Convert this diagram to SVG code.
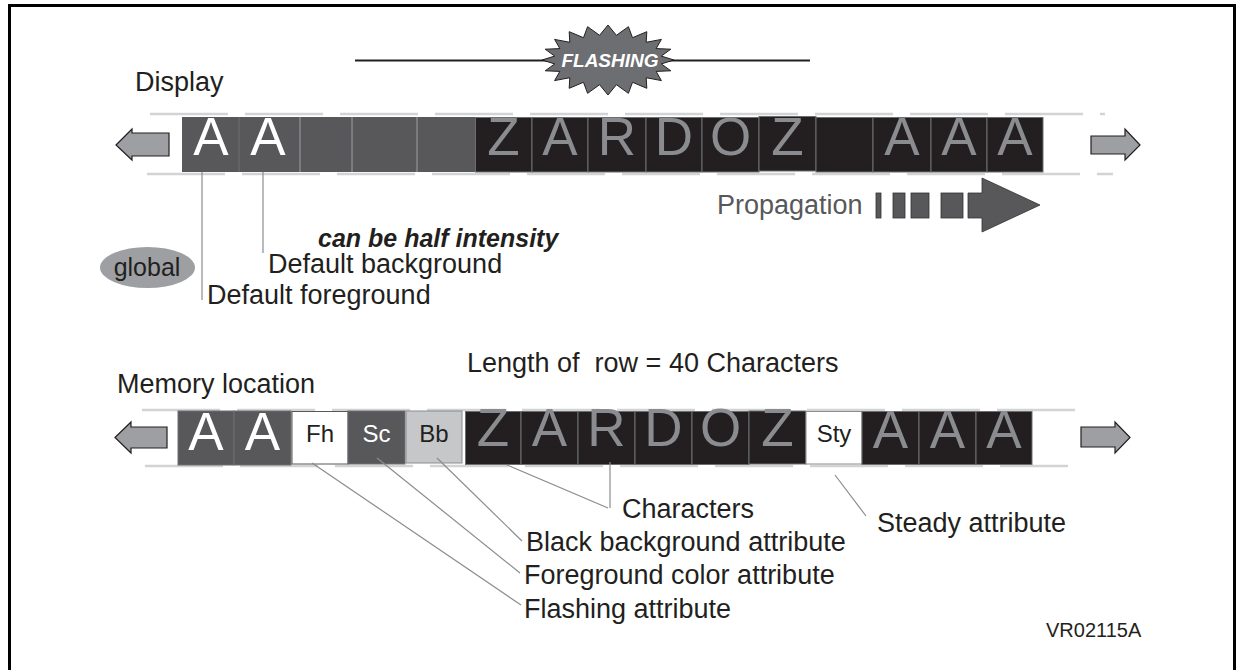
<svg xmlns="http://www.w3.org/2000/svg" width="1239" height="670" viewBox="0 0 1239 670">
<style>
text{font-family:"Liberation Sans",Arial,sans-serif;fill:#231f20}
.lbl{font-size:27px}
.big{font-size:53px;text-anchor:middle}
.w{fill:#ffffff}
.g{fill:#8a8c8f}
.attr{font-size:24px;text-anchor:middle}
.dash{stroke:#d2d3d4;stroke-width:2.5;stroke-dasharray:78 17;fill:none}
.gc{fill:#58585a;stroke:none}
.bc{fill:#231f20;stroke:#6d6e71;stroke-width:1}
.div{stroke:#9d9fa2;stroke-width:1}
.arr{fill:#9d9fa2;stroke:#231f20;stroke-width:1.2}
.con{stroke:#8a8c8f;stroke-width:1.2;fill:none}
</style>
<g id="frame" fill="none" stroke="#000" stroke-width="3">
<path d="M9.5,670 V5.5 H1234.5 V670"/>
</g>
<g id="flashing">
<line x1="355" y1="60.5" x2="810" y2="60.5" stroke="#231f20" stroke-width="2"/>
<polygon fill="#6d6e71" stroke="#231f20" stroke-width="1" points="674,60 661.3,63.9 670.8,70.8 656.1,71.4 661.4,80.6 646.2,77.7 646.8,88.3 632.5,82.3 628.4,93.3 616.4,84.7 608,95 599.6,84.7 587.6,93.3 583.5,82.3 569.2,88.3 569.8,77.7 554.6,80.6 559.9,71.4 545.2,70.8 554.7,63.9 542,60 554.7,56.1 545.2,49.2 559.9,48.6 554.6,39.4 569.8,42.3 569.2,31.7 583.5,37.7 587.6,26.7 599.6,35.3 608,25 616.4,35.3 628.4,26.7 632.5,37.7 646.8,31.7 646.2,42.3 661.4,39.4 656.1,48.6 670.8,49.2 661.3,56.1"/>
<text x="610" y="67" class="w" font-size="19" font-weight="bold" font-style="italic" text-anchor="middle">FLASHING</text>
</g>
<g id="display">
<text x="135" y="91" class="lbl">Display</text>
<line x1="150" y1="114" x2="1105" y2="114" class="dash"/>
<line x1="147" y1="174" x2="1113" y2="174" class="dash"/>
<polygon class="arr" points="116,145 132,129 132,133 169,133 169,156 132,156 132,160"/>
<polygon class="arr" points="1140,145 1125,129 1125,136 1091,136 1091,154 1125,154 1125,160"/>
<rect x="182" y="117" width="293" height="55" class="gc"/>
<line x1="239" y1="117" x2="239" y2="172" stroke="#6d6e71"/>
<line x1="300" y1="117" x2="300" y2="172" class="div"/>
<line x1="352" y1="117" x2="352" y2="172" class="div"/>
<line x1="417" y1="117" x2="417" y2="172" class="div"/>
<rect x="475.5" y="117.5" width="56.5" height="54.5" class="bc"/>
<rect x="532" y="117.5" width="56" height="54.5" class="bc"/>
<rect x="588" y="117.5" width="58" height="54.5" class="bc"/>
<rect x="646" y="117.5" width="56" height="54.5" class="bc"/>
<rect x="702" y="117.5" width="57" height="54.5" class="bc"/>
<rect x="759" y="116.5" width="57" height="54.5" class="bc"/>
<rect x="816" y="117.5" width="57" height="54.5" class="bc"/>
<rect x="873" y="117.5" width="58" height="54.5" class="bc"/>
<rect x="931" y="117.5" width="56" height="54.5" class="bc"/>
<rect x="987" y="117.5" width="56" height="54.5" class="bc"/>
<text x="211" y="155" class="big w">A</text>
<text x="268" y="155" class="big w">A</text>
<text x="503.5" y="155" class="big g">Z</text>
<text x="560" y="155" class="big g">A</text>
<text x="617" y="155" class="big g">R</text>
<text x="674" y="155" class="big g">D</text>
<text x="730.5" y="155" class="big g">O</text>
<text x="787.5" y="155" class="big g">Z</text>
<text x="902" y="155" class="big g">A</text>
<text x="959" y="155" class="big g">A</text>
<text x="1015" y="155" class="big g">A</text>
</g>
<g id="propagation">
<text x="717" y="214" class="lbl" style="fill:#58585a">Propagation</text>
<g fill="#58585a" stroke="#333" stroke-width="0.8">
<rect x="876" y="193" width="5" height="25"/>
<rect x="893" y="193" width="12" height="25"/>
<rect x="911" y="193" width="18" height="25"/>
<rect x="941" y="193" width="22" height="25"/>
<polygon points="968,193 982,193 982,178 1040,205 982,232 982,218 968,218"/>
</g>
</g>
<g id="global">
<ellipse cx="147.5" cy="267.5" rx="47.5" ry="20.5" fill="#9d9fa2"/>
<text x="147" y="276" font-size="25" text-anchor="middle">global</text>
</g>
<g id="display-labels">
<text x="318" y="247" font-size="25" font-weight="bold" font-style="italic">can be half intensity</text>
<text x="268" y="273" class="lbl">Default background</text>
<text x="207" y="304" class="lbl">Default foreground</text>
</g>
<g id="memory">
<text x="117" y="393" class="lbl">Memory location</text>
<text x="467" y="372" class="lbl" xml:space="preserve">Length of  row = 40 Characters</text>
<line x1="142" y1="410" x2="1090" y2="410" class="dash"/>
<line x1="145" y1="466" x2="1068" y2="466" class="dash"/>
<polygon class="arr" points="115,437.5 131,422 131,427 167,427 167,448 131,448 131,453"/>
<polygon class="arr" points="1130,437.5 1115,422 1115,427 1081,427 1081,447 1115,447 1115,453"/>
<rect x="178" y="411" width="56" height="54" fill="#58585a" stroke="#6d6e71"/>
<rect x="234" y="411" width="57" height="54" fill="#58585a" stroke="#6d6e71"/>
<rect x="292" y="411.5" width="56" height="52.5" fill="#fff" stroke="#58585a"/>
<rect x="348" y="411" width="57" height="53" fill="#58585a" stroke="#6d6e71"/>
<rect x="406" y="411" width="56" height="52" fill="#c6c7c8" stroke="#8a8c8f"/>
<rect x="465.5" y="411.5" width="55.5" height="53" class="bc"/>
<rect x="521" y="411.5" width="57" height="53" class="bc"/>
<rect x="578" y="411.5" width="57" height="53" class="bc"/>
<rect x="635" y="411.5" width="57" height="53" class="bc"/>
<rect x="692" y="411.5" width="57" height="53" class="bc"/>
<rect x="749" y="411" width="57" height="53" class="bc"/>
<rect x="806" y="411.5" width="56" height="52.5" fill="#fff" stroke="#8a8c8f"/>
<rect x="862" y="411.5" width="57" height="53" class="bc"/>
<rect x="919" y="411.5" width="57" height="53" class="bc"/>
<rect x="976" y="411.5" width="56" height="53" class="bc"/>
<text x="206" y="450" class="big w">A</text>
<text x="262.5" y="450" class="big w">A</text>
<text x="320" y="442" class="attr">Fh</text>
<text x="376.5" y="442" class="attr w">Sc</text>
<text x="434" y="442" class="attr">Bb</text>
<text x="493" y="446" class="big g">Z</text>
<text x="549.5" y="446" class="big g">A</text>
<text x="606.5" y="446" class="big g">R</text>
<text x="663.5" y="446" class="big g">D</text>
<text x="720.5" y="446" class="big g">O</text>
<text x="777.5" y="446" class="big g">Z</text>
<text x="834" y="442" class="attr">Sty</text>
<text x="890.5" y="448" class="big g">A</text>
<text x="947.5" y="448" class="big g">A</text>
<text x="1004" y="448" class="big g">A</text>
</g>
<g id="memory-labels">
<text x="622" y="518" class="lbl">Characters</text>
<text x="526" y="551" class="lbl">Black background attribute</text>
<text x="524" y="584" class="lbl">Foreground color attribute</text>
<text x="524" y="618" class="lbl">Flashing attribute</text>
<text x="877" y="532" class="lbl">Steady attribute</text>
<text x="1046" y="637" font-size="20">VR02115A</text>
</g>
<g id="connectors">
<line x1="202" y1="172" x2="202" y2="300" class="con"/>
<line x1="263" y1="172" x2="263" y2="253" class="con"/>
<line x1="312" y1="463" x2="521" y2="605" class="con"/>
<line x1="377" y1="458" x2="520" y2="573" class="con"/>
<line x1="437" y1="458" x2="522" y2="541" class="con"/>
<line x1="507" y1="465" x2="608" y2="508" class="con"/>
<line x1="610" y1="462" x2="610" y2="508" class="con"/>
<line x1="835" y1="475" x2="866" y2="516" class="con"/>
</g>
</svg>
